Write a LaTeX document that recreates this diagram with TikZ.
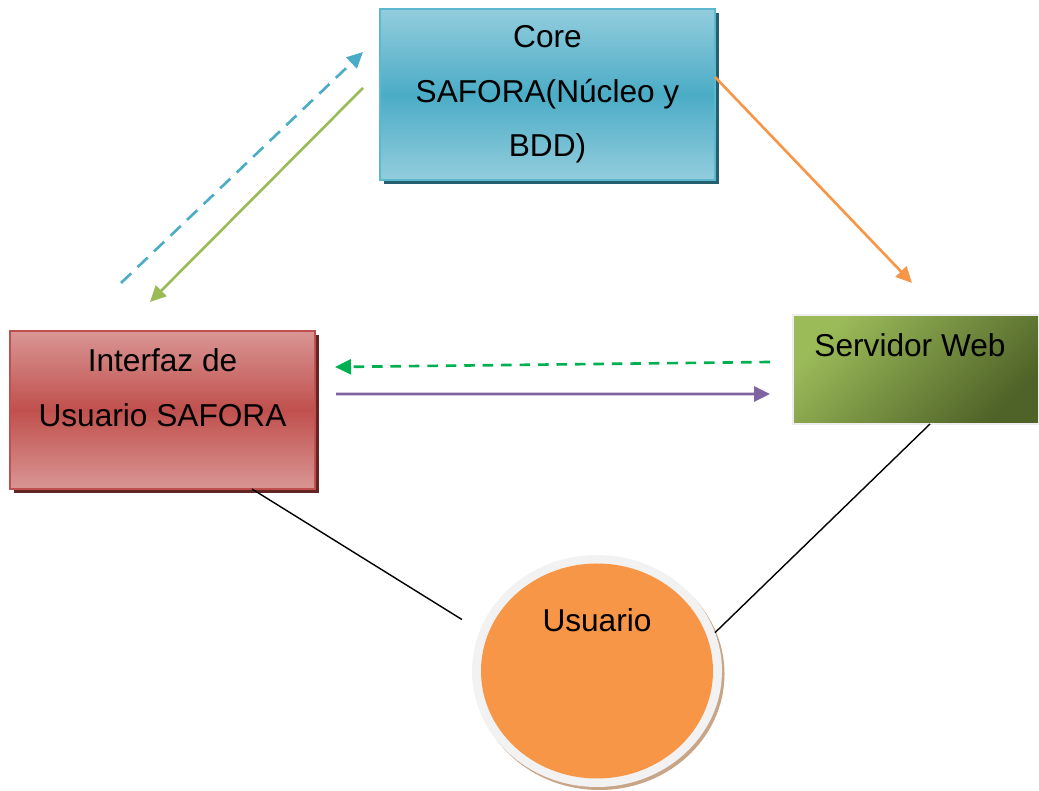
\documentclass[tikz,border=0pt]{standalone}
\usepackage{fontspec}
\setmainfont{Liberation Sans}
\usetikzlibrary{arrows.meta,shadows,shapes.geometric}
\definecolor{azulCore}{HTML}{4BACC6}
\definecolor{azulClaro}{HTML}{93CDDD}
\definecolor{azulBorde}{HTML}{5CB8CF}
\definecolor{azulSombra}{HTML}{25606F}
\definecolor{rojoInt}{HTML}{C0504D}
\definecolor{rojoClaro}{HTML}{D99694}
\definecolor{rojoSombra}{HTML}{632523}
\definecolor{verdeWeb}{HTML}{9BBB59}
\definecolor{verdeOscuro}{HTML}{4F6228}
\definecolor{naranja}{HTML}{F79646}
\definecolor{anillo}{HTML}{F2F2F2}
\definecolor{sombraUs}{HTML}{C9A588}
\definecolor{verdeDash}{HTML}{00B050}
\definecolor{morado}{HTML}{8064A2}

\begin{document}
\begin{tikzpicture}[
    texto/.style={font=\fontsize{18}{31}\selectfont, align=center},
    caja/.style={rectangle, inner sep=0pt, outer sep=0pt, texto},
    core/.style={caja, draw=azulBorde, line width=0.8pt,
        top color=azulClaro, bottom color=azulClaro, middle color=azulCore,
        drop shadow={shadow xshift=0.07cm, shadow yshift=-0.08cm, fill=azulSombra, opacity=1}},
    interfaz/.style={caja, draw=rojoInt, line width=0.8pt,
        top color=rojoClaro, bottom color=rojoClaro, middle color=rojoInt,
        drop shadow={shadow xshift=0.08cm, shadow yshift=-0.09cm, fill=rojoSombra, opacity=1}},
    web/.style={caja, draw=black!7, line width=0.8pt,
        top color=verdeWeb, bottom color=verdeOscuro, shading angle=45},
    usuario/.style={ellipse, inner sep=0pt, outer sep=0pt, fill=anillo,
        drop shadow={shadow xshift=0.05cm, shadow yshift=-0.06cm, fill=sombraUs, opacity=1}},
    flecha/.style={line width=1.5pt, -{Triangle[length=3.2mm,width=3mm]}},
    enlace/.style={line width=0.8pt, black},
]
    \useasboundingbox (0,0) rectangle (20.78,15.82);

    % cajas
    \node[core, minimum width=6.7cm, minimum height=3.42cm] (core) at (10.95,13.93)
        {Core\\SAFORA(Núcleo y\\BDD)};
    \node[interfaz, minimum width=6.1cm, minimum height=3.16cm,
        label={[texto, yshift=0.45cm]center:Interfaz de\\Usuario SAFORA}] (interfaz) at (3.25,7.62) {};
    \node[web, minimum width=4.92cm, minimum height=2.18cm,
        label={[texto, xshift=-0.12cm, yshift=0.49cm]center:Servidor Web}] (web) at (18.32,8.43) {};

    % usuario
    \node[usuario, minimum width=5cm, minimum height=4.64cm] (usuario) at (11.94,2.40) {};
    \node[ellipse, fill=naranja, inner sep=0pt, minimum width=4.64cm, minimum height=4.3cm,
        label={[texto, yshift=1.01cm]center:Usuario}] (usuarioIn) at (usuario.center) {};

    % flechas
    \draw[flecha, azulCore, dash pattern=on 8pt off 5pt]
        ([xshift=2.22cm, yshift=0.96cm]interfaz.north west) -- ([xshift=-0.34cm, yshift=0.85cm]core.west);
    \draw[flecha, verdeWeb]
        ([xshift=-0.34cm, yshift=0.13cm]core.west) -- ([xshift=2.8cm, yshift=0.58cm]interfaz.north west);
    \draw[flecha, naranja]
        ([yshift=0.35cm]core.east) -- ([xshift=2.38cm, yshift=0.64cm]web.north west);
    \draw[flecha, verdeDash, dash pattern=on 6pt off 4.5pt]
        ([xshift=-0.46cm, yshift=0.15cm]web.west) -- ([xshift=0.4cm, yshift=0.86cm]interfaz.east);
    \draw[flecha, morado]
        ([xshift=0.42cm, yshift=0.32cm]interfaz.east) -- ([xshift=-0.46cm, yshift=-0.49cm]web.west);

    % enlaces
    \draw[enlace, shorten >=0.42cm] ([xshift=-1.26cm]interfaz.south east) -- (usuario.161);
    \draw[enlace] ([xshift=2.74cm]web.south west) -- (usuario.18);
\end{tikzpicture}
\end{document}
